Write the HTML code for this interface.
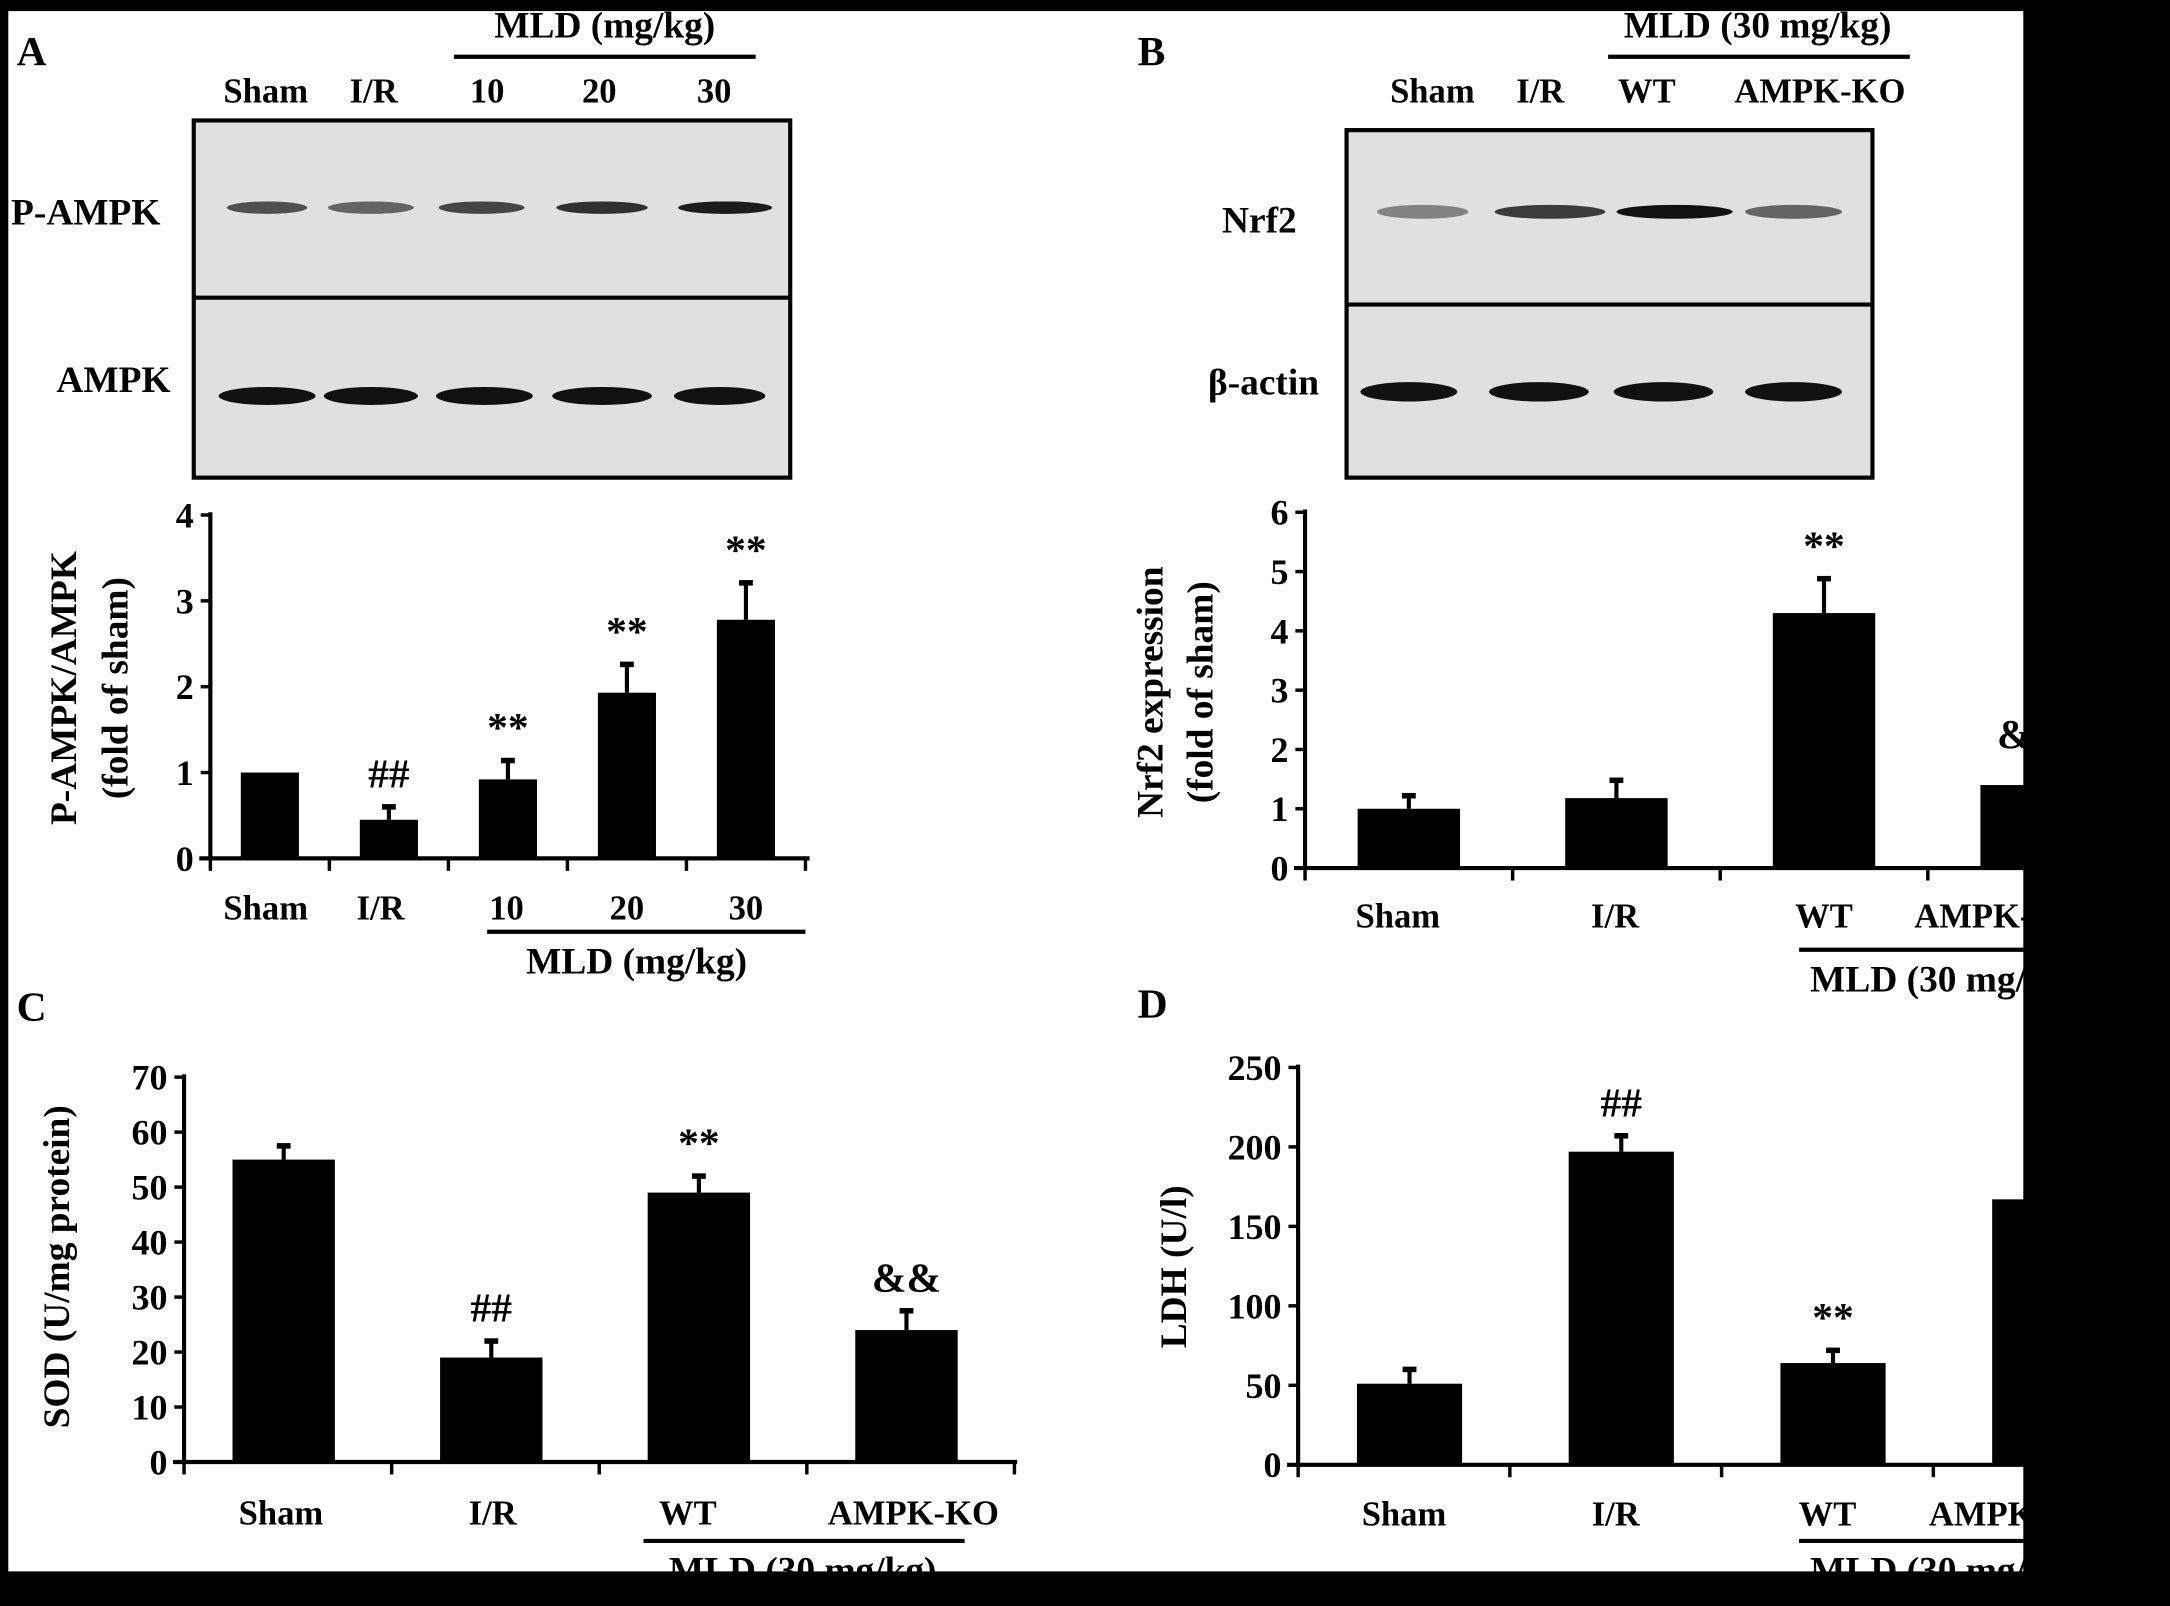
<!DOCTYPE html>
<html><head><meta charset="utf-8">
<style>
html,body{margin:0;padding:0;background:#000;}
svg{display:block;}
text{font-family:"Liberation Serif",serif;font-weight:bold;fill:#000;}
</style></head>
<body>
<svg id="fig" width="2170" height="1606" viewBox="0 0 1568 1160" preserveAspectRatio="none" xmlns="http://www.w3.org/2000/svg">
<rect x="0" y="0" width="1568" height="1160" fill="#fff"/>
<g id="content"></g>
<g id="frame">
<rect x="0" y="0" width="1568" height="8" fill="#000"/>
<rect x="0" y="0" width="6" height="1160" fill="#000"/>
<rect x="1462" y="0" width="106" height="1160" fill="#000"/>
<rect x="0" y="1135" width="1568" height="25" fill="#000"/>
</g>
</svg>
<script>
// ---- data ----
const catsA = ["Sham","I/R","10","20","30"];
const valsA = [1.0,0.45,0.92,1.93,2.78];
const errA = [0,0.15,0.22,0.33,0.43];
const sigA = ["","##","**","**","**"];
const ticksA = [0,1,2,3,4];

const catsB = ["Sham","I/R","WT","AMPK-KO"];
const valsB = [1.0,1.18,4.3,1.4];
const errB = [0.22,0.3,0.58,0.3];
const sigB = ["","","**","&&"];
const ticksB = [0,1,2,3,4,5,6];

const catsC = ["Sham","I/R","WT","AMPK-KO"];
const valsC = [55,19,49,24];
const errC = [2.5,3,3,3.5];
const sigC = ["","##","**","&&"];
const ticksC = [0,10,20,30,40,50,60,70];

const catsD = ["Sham","I/R","WT","AMPK-KO"];
const valsD = [51,197,64,167];
const errD = [9,10,8,10];
const sigD = ["","##","**",""];
const ticksD = [0,50,100,150,200,250];

const NS="http://www.w3.org/2000/svg";
const root=document.getElementById('content');
function el(tag,attrs,parent,txt){const e=document.createElementNS(NS,tag);for(const k in attrs)e.setAttribute(k,attrs[k]);if(txt!==undefined)e.textContent=txt;(parent||root).appendChild(e);return e;}

function chart(o){
  const g=el('g',{});
  
  
  const max=o.ticks[o.ticks.length-1];
  const y=v=>o.y0-(v/max)*(o.y0-o.yTop);
  const x=i=>o.x0+o.gap*(i+0.5)+o.xoff;
  const ya=el('line',{x1:o.x0,y1:o.yTop-2,x2:o.x0,y2:o.y0,stroke:'#000','stroke-width':3},g);
  
  const xa=el('line',{x1:o.x0-8,y1:o.y0,x2:o.xEnd,y2:o.y0,stroke:'#000','stroke-width':3},g);
  
  o.ticks.forEach(t=>{
    el('line',{x1:o.x0-7,y1:y(t),x2:o.x0,y2:y(t),stroke:'#000','stroke-width':2.5},g);
    const tl=el('text',{x:o.x0-12,y:y(t)+9,'text-anchor':'end','font-size':o.tfs||26},g,String(t));
    
  });
  for(let i=0;i<=o.cats.length;i++){
    el('line',{x1:o.x0+o.gap*i,y1:o.y0,x2:o.x0+o.gap*i,y2:o.y0+9,stroke:'#000','stroke-width':2.5},g);
  }
  o.cats.forEach((c,i)=>{
    const cx=x(i);
    const b=el('rect',{x:cx-o.bw/2,y:y(o.vals[i]),width:o.bw,height:o.y0-y(o.vals[i]),fill:'#000'},g);
    
    
    if(o.err[i]>0){
      const ey=y(o.vals[i]+o.err[i]);
      el('line',{x1:cx,y1:y(o.vals[i]),x2:cx,y2:ey,stroke:'#000','stroke-width':3},g);
      el('line',{x1:cx-5,y1:ey,x2:cx+5,y2:ey,stroke:'#000','stroke-width':4},g);
    }
    if(o.sig[i]){
      const s=el('text',{x:cx,y:y(o.vals[i]+o.err[i])-14,'text-anchor':'middle','font-size':30,'font-weight':'normal'},g,o.sig[i]);
      
    }
    const l=el('text',{x:cx+(o.lx?o.lx[i]:0),y:o.labY,'text-anchor':'middle','font-size':25},g,c);
    
  });
  return g;
}
function txt(x,y,s,fs,name,anchor,rot){
  const t=el('text',{x:x,y:y,'font-size':fs,'text-anchor':anchor||'middle'},root,s);
  if(rot)t.setAttribute('transform','rotate(-90 '+x+' '+y+')');
  
  return t;
}
function line(x1,y1,x2,y2,name){
  const l=el('line',{x1:x1,y1:y1,x2:x2,y2:y2,stroke:'#000','stroke-width':3});
  
}
function band(cx,cy,w,h,op){
  const b=el('ellipse',{cx:cx,cy:cy,rx:w/2,ry:h/2,fill:'#111','fill-opacity':op});
  
}

// Panel A
txt(12,47,'A',30,'panel-label-a','start');
txt(437,27,'MLD (mg/kg)',27,'dose-header-a');
line(328,41,546,41,'dose-bracket-a');
[['Sham',192],['I/R',270],['10',352],['20',433],['30',516]].forEach(a=>txt(a[1],74,a[0],25,'lane-label'));
let bx=el('rect',{x:140,y:87,width:431,height:258,fill:'#e0e0e0',stroke:'#000','stroke-width':3});

line(140,215,571,215,'blot-divider-a');
txt(8,162,'P-AMPK',27,'blot-label-p-ampk','start');
txt(82,283,'AMPK',27,'blot-label-ampk');
[[193,0.7,58],[268,0.6,62],[348,0.75,62],[435,0.85,66],[524,0.95,68]].forEach(b=>band(b[0],150,b[2],9,b[1]));
[[193,1,70],[268,1,68],[350,1,70],[435,1,72],[520,1,66]].forEach(b=>band(b[0],286,b[2],13,b[1]));
chart({name:'chart-p-ampk',cats:catsA,vals:valsA,err:errA,sig:sigA,ticks:ticksA,x0:152,xEnd:585,y0:620,yTop:372,gap:86,xoff:-0,bw:42,labY:664,lx:[-3,-6,-1,0,0]});
txt(55,497,'P-AMPK/AMPK',27,'y-axis-title-a','middle',true);
txt(92,497,'(fold of sham)',27,'y-axis-title-a2','middle',true);
line(352,673,582,673,'dose-bracket-a-bottom');
txt(460,703,'MLD (mg/kg)',27,'x-group-label-a');

// Panel B
txt(822,47,'B',30,'panel-label-b','start');
txt(1270,27,'MLD (30 mg/kg)',27,'dose-header-b');
line(1162,41,1380,41,'dose-bracket-b');
[['Sham',1035],['I/R',1113],['WT',1190],['AMPK-KO',1315]].forEach(a=>txt(a[1],74,a[0],25,'lane-label'));
bx=el('rect',{x:973,y:94,width:380,height:251,fill:'#e0e0e0',stroke:'#000','stroke-width':3});

line(973,220,1353,220,'blot-divider-b');
txt(910,168,'Nrf2',27,'blot-label-nrf2');
txt(913,285,'β-actin',27,'blot-label-beta-actin');
[[1028,0.45,66],[1120,0.8,80],[1210,1,84],[1296,0.6,70]].forEach(b=>band(b[0],153,b[2],10,b[1]));
[[1018,1,70],[1112,1,72],[1202,1,72],[1296,1,70]].forEach(b=>band(b[0],283,b[2],14,b[1]));
chart({name:'chart-nrf2',cats:catsB,vals:valsB,err:errB,sig:sigB,ticks:ticksB,x0:943,xEnd:1470,y0:627,yTop:370,gap:150,xoff:0,bw:74,labY:670,lx:[-8,-1,0,-23]});
txt(840,500,'Nrf2 expression',27,'y-axis-title-b','middle',true);
txt(876,500,'(fold of sham)',27,'y-axis-title-b2','middle',true);
line(1300,686,1470,686,'dose-bracket-b-bottom');
txt(1308,716,'MLD (30 mg/kg)',27,'x-group-label-b','start');

// Panel C
txt(12,737,'C',30,'panel-label-c','start');
chart({name:'chart-sod',cats:catsC,vals:valsC,err:errC,sig:sigC,ticks:ticksC,x0:133,xEnd:735,y0:1056,yTop:778,gap:150,xoff:-3,bw:74,labY:1101,lx:[-2,1,-8,5]});
txt(50,915,'SOD (U/mg protein)',27,'y-axis-title-c','middle',true);
line(465,1113,697,1113,'dose-bracket-c');
txt(580,1143,'MLD (30 mg/kg)',27,'x-group-label-c');

// Panel D
txt(822,735,'D',30,'panel-label-d','start');
chart({name:'chart-ldh',cats:catsD,vals:valsD,err:errD,sig:sigD,ticks:ticksD,x0:938,xEnd:1470,y0:1058,yTop:771,gap:153,xoff:4,bw:76,labY:1102,lx:[-4,-4,-4,-22]});
txt(857,915,'LDH (U/l)',27,'y-axis-title-d','middle',true);
line(1300,1113,1470,1113,'dose-bracket-d');
txt(1308,1143,'MLD (30 mg/kg)',27,'x-group-label-d','start');
</script>
</body></html>
